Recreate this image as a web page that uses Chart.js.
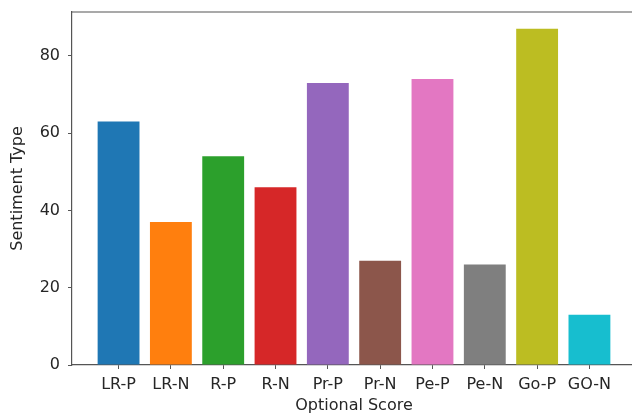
<!DOCTYPE html>
<html>
<head>
<meta charset="utf-8">
<script src="https://cdn.jsdelivr.net/npm/chart.js@4/dist/chart.umd.min.js"></script>
<style>
  body { margin: 0; overflow: hidden; background: #fff; }
</style>
</head>
<body>
<canvas id="barChart" width="640" height="415"></canvas>
<script>
// Chart data
const categories = ["LR-P", "LR-N", "R-P", "R-N", "Pr-P", "Pr-N", "Pe-P", "Pe-N", "Go-P", "GO-N"];
const scores = [63, 37, 54, 46, 73, 27, 74, 26, 87, 13];
const barColors = ["#1f77b4", "#ff7f0e", "#2ca02c", "#d62728", "#9467bd",
                   "#8c564b", "#e377c2", "#7f7f7f", "#bcbd22", "#17becf"];
const yTicks = [0, 20, 40, 60, 80];

const textColor = "#262626";
const spineColor = "#555";
const font = { family: "DejaVu Sans", size: 16 };

// matplotlib-like top/right spines
const spinePlugin = {
    id: "spines",
    afterDraw(chart) {
        const { ctx, chartArea } = chart;
        ctx.save();
        ctx.strokeStyle = spineColor;
        ctx.lineWidth = 1.2;
        ctx.beginPath();
        ctx.moveTo(chartArea.left, chartArea.top);
        ctx.lineTo(chartArea.right, chartArea.top);
        ctx.lineTo(chartArea.right, chartArea.bottom);
        ctx.stroke();
        ctx.restore();
    }
};

const ctx = document.getElementById("barChart").getContext("2d");

new Chart(ctx, {
    type: "bar",
    data: {
        datasets: [{
            data: scores.map((v, i) => ({ x: i, y: v })),
            backgroundColor: barColors,
            borderWidth: 0,
            categoryPercentage: 1,
            barPercentage: 0.8
        }]
    },
    options: {
        responsive: false,
        animation: false,
        events: [],
        layout: { padding: { top: 12, right: 4, left: 0, bottom: 0 } },
        plugins: {
            legend: { display: false },
            tooltip: { enabled: false }
        },
        scales: {
            x: {
                type: "linear",
                offset: false,
                min: -0.89,
                max: 9.89,
                afterBuildTicks: (scale) => {
                    scale.ticks = categories.map((c, i) => ({ value: i }));
                },
                afterFit: (scale) => {
                    scale.height = 50;
                    scale.paddingLeft = 0;
                    scale.paddingRight = 0;
                },
                ticks: {
                    autoSkip: false,
                    maxRotation: 0,
                    padding: 6,
                    color: textColor,
                    font: font,
                    callback: (value) => categories[value]
                },
                grid: {
                    offset: false,
                    drawOnChartArea: false,
                    drawTicks: true,
                    tickLength: 4,
                    color: spineColor
                },
                border: { color: spineColor, width: 1.2 },
                title: {
                    display: true,
                    text: "Optional Score",
                    color: textColor,
                    font: font,
                    padding: { top: 0, bottom: 0 }
                }
            },
            y: {
                min: 0,
                max: 91.35,
                afterBuildTicks: (scale) => {
                    scale.ticks = yTicks.map(v => ({ value: v }));
                },
                afterFit: (scale) => {
                    scale.width = 72;
                    scale.paddingTop = 0;
                    scale.paddingBottom = 0;
                },
                ticks: {
                    padding: 8,
                    color: textColor,
                    font: font
                },
                grid: {
                    drawOnChartArea: false,
                    drawTicks: true,
                    tickLength: 4,
                    color: spineColor
                },
                border: { color: spineColor, width: 1.2 },
                title: {
                    display: true,
                    text: "Sentiment Type",
                    color: textColor,
                    font: font,
                    padding: { top: 8, bottom: 0 }
                }
            }
        }
    },
    plugins: [spinePlugin]
});
</script>
</body>
</html>
